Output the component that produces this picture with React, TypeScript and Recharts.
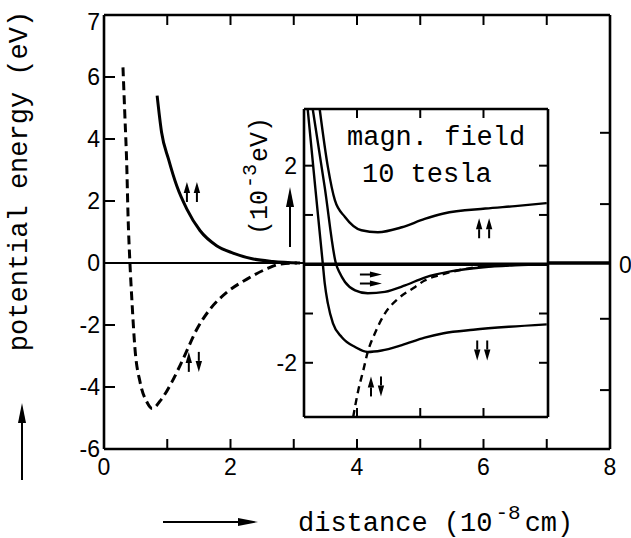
import React from 'react';
import { LineChart, Line, XAxis, YAxis, ReferenceLine, ReferenceDot } from 'recharts';

// main panel: potential energy (eV) vs distance (10^-8 cm)
const mainTripletX = [0.84, 0.91, 1.02, 1.15, 1.31, 1.52, 1.78, 2.04, 2.36, 2.67, 3.1];
const mainTripletY = [5.4, 4.22, 3.35, 2.49, 1.74, 1.04, 0.56, 0.32, 0.13, 0.05, 0];

const mainSingletX = [0.3, 0.33, 0.36, 0.38, 0.41, 0.44, 0.49, 0.57, 0.68, 0.76, 0.91, 1.07, 1.25, 1.47, 1.68, 1.94, 2.26, 2.57, 2.8, 3.05];
const mainSingletY = [6.31, 4.75, 3.14, 1.53, 0, -1.16, -2.77, -3.84, -4.49, -4.69, -4.39, -3.85, -3.1, -2.13, -1.48, -0.95, -0.52, -0.19, -0.03, 0];

// inset: 10^-3 eV, magnetic field 10 tesla
const insetUpUpX = [3.41, 3.54, 3.65, 3.81, 4.07, 4.33, 4.71, 5.07, 5.37, 6.03, 6.5, 7.0];
const insetUpUpV = [3.15, 1.97, 1.3, 0.96, 0.69, 0.65, 0.75, 0.92, 1.03, 1.13, 1.18, 1.24];

const insetMixedX = [3.3, 3.49, 3.67, 3.72, 3.81, 3.97, 4.17, 4.44, 4.76, 5.07, 5.5, 6.0, 6.5, 7.0];
const insetMixedV = [3.15, 1.56, 0, -0.16, -0.36, -0.53, -0.59, -0.56, -0.43, -0.27, -0.14, -0.06, -0.02, 0];

const insetDownDownX = [3.22, 3.34, 3.46, 3.49, 3.54, 3.62, 3.76, 3.97, 4.17, 4.39, 4.71, 5.07, 5.37, 5.84, 6.4, 7.0];
const insetDownDownV = [3.15, 1.56, 0, -0.39, -0.8, -1.2, -1.48, -1.68, -1.78, -1.75, -1.64, -1.49, -1.4, -1.33, -1.27, -1.22];

const insetSingletX = [3.94, 4.02, 4.1, 4.17, 4.28, 4.44, 4.65, 4.92, 5.07, 5.31, 5.79, 6.3, 7.0];
const insetSingletV = [-3.1, -2.56, -2.15, -1.78, -1.41, -1.0, -0.7, -0.46, -0.33, -0.22, -0.08, -0.02, 0];

const mainXTicks = [0, 1, 2, 3, 4, 5, 6, 7, 8];
const mainYTicks = [-6, -4, -2, 0, 2, 4, 6, 8];
const mainRightTicks = [4.2, 1.9, -1.8, -4.1];
const insetXTicks = [4, 5, 6];
const insetYTicks = [-2, -1, 1, 2];

const mainSpins = [
  { x: 1.39, y: 2.29, kind: 'uu' },
  { x: 1.42, y: -3.19, kind: 'ud' },
];
const insetSpins = [
  { x: 6.01, y: 0.73, kind: 'uu' },
  { x: 4.22, y: -0.3, kind: 'rr' },
  { x: 5.98, y: -1.75, kind: 'dd' },
  { x: 4.3, y: -2.48, kind: 'ud' },
];

const pts = (xs: number[], ys: number[]) => xs.map((x, i) => ({ x, y: ys[i] }));

const MONO = '"Liberation Mono", "DejaVu Sans Mono", monospace';
const SANS = '"Liberation Sans", Arial, sans-serif';
const frame = { stroke: '#000', strokeWidth: 2.6 };
const tickStyle = { stroke: '#000', strokeWidth: 2 };
const blank = () => '';

const ArrowV = ({ x, cy, up }: { x: number; cy: number; up: boolean }) => {
  const tip = up ? cy - 10 : cy + 10;
  const base = up ? cy + 1 : cy - 1;
  const tail = up ? cy + 10 : cy - 10;
  return (
    <g>
      <line x1={x} y1={base} x2={x} y2={tail} stroke="#000" strokeWidth={2} />
      <path d={`M${x},${tip} L${x + 3.2},${base} L${x - 3.2},${base} Z`} fill="#000" />
    </g>
  );
};

const ArrowH = ({ cx, y }: { cx: number; y: number }) => (
  <g>
    <line x1={cx - 11} y1={y} x2={cx + 1} y2={y} stroke="#000" strokeWidth={2} />
    <path d={`M${cx + 11},${y} L${cx - 1},${y - 3} L${cx - 1},${y + 3} Z`} fill="#000" />
  </g>
);

const SpinPair = ({ cx, cy, kind }: { cx: number; cy: number; kind: string }) => {
  if (kind === 'rr') {
    return (
      <g>
        <ArrowH cx={cx} y={cy - 4.5} />
        <ArrowH cx={cx} y={cy + 4.5} />
      </g>
    );
  }
  return (
    <g>
      <ArrowV x={cx - 5} cy={cy} up={kind !== 'dd'} />
      <ArrowV x={cx + 5} cy={cy} up={kind === 'uu'} />
    </g>
  );
};

const LeftTick = (props: any) => {
  const { x, y, payload } = props;
  const top = payload.value === 8;
  return (
    <text x={x} y={y + (top ? 7 : 0)} dy="0.355em" textAnchor="end" fontSize={23} fontFamily={SANS} fill="#000">
      {top ? '7' : String(payload.value)}
    </text>
  );
};

const Arrow = ({ x1, y1, x2, y2 }: { x1: number; y1: number; x2: number; y2: number }) => {
  const len = Math.hypot(x2 - x1, y2 - y1);
  const ux = (x2 - x1) / len;
  const uy = (y2 - y1) / len;
  const hx = x2 - ux * 20;
  const hy = y2 - uy * 20;
  return (
    <g>
      <line x1={x1} y1={y1} x2={hx + ux * 2} y2={hy + uy * 2} stroke="#000" strokeWidth={2} />
      <path d={`M${x2},${y2} L${hx - uy * 4},${hy + ux * 4} L${hx + uy * 4},${hy - ux * 4} Z`} fill="#000" />
    </g>
  );
};

export default function App() {
  return (
    <div style={{ position: 'absolute', left: 0, top: 0, width: 631, height: 538, background: '#fff' }}>
      <div style={{ position: 'absolute', left: 0, top: 0 }}>
        <LineChart width={631} height={538} margin={{ top: 14, right: 20, bottom: 59, left: 44 }}>
          <XAxis
            xAxisId="b"
            type="number"
            dataKey="x"
            domain={[0, 8]}
            ticks={mainXTicks}
            interval={0}
            allowDataOverflow
            tickFormatter={(v: number) => (v % 2 === 0 ? String(v) : '')}
            tickSize={-10}
            tickMargin={20}
            height={30}
            axisLine={frame}
            tickLine={tickStyle}
            tick={{ fill: '#000', fontSize: 23, fontFamily: SANS }}
          />
          <XAxis
            xAxisId="t"
            orientation="top"
            type="number"
            dataKey="x"
            domain={[0, 8]}
            ticks={mainXTicks}
            interval={0}
            allowDataOverflow
            tickFormatter={blank}
            tickSize={-10}
            height={1}
            axisLine={frame}
            tickLine={tickStyle}
          />
          <YAxis
            yAxisId="l"
            type="number"
            domain={[-6, 8]}
            ticks={mainYTicks}
            interval={0}
            allowDataOverflow
            tickSize={-11}
            tickMargin={15}
            width={60}
            axisLine={frame}
            tickLine={tickStyle}
            tick={LeftTick}
          />
          <YAxis
            yAxisId="r"
            orientation="right"
            type="number"
            domain={[-6, 8]}
            ticks={mainRightTicks}
            interval={0}
            allowDataOverflow
            tickFormatter={blank}
            tickSize={-10}
            width={1}
            axisLine={frame}
            tickLine={tickStyle}
          />
          <ReferenceLine xAxisId="b" yAxisId="l" y={0} stroke="#000" strokeWidth={2.2} />
          <ReferenceLine
            xAxisId="b"
            yAxisId="l"
            segment={[{ x: 7.0, y: 0 }, { x: 8, y: 0 }]}
            stroke="#000"
            strokeWidth={3.5}
          />
          <Line
            xAxisId="b"
            yAxisId="l"
            data={pts(mainTripletX, mainTripletY)}
            dataKey="y"
            type="monotone"
            stroke="#000"
            strokeWidth={3}
            dot={false}
            isAnimationActive={false}
          />
          <Line
            xAxisId="b"
            yAxisId="l"
            data={pts(mainSingletX, mainSingletY)}
            dataKey="y"
            type="monotone"
            stroke="#000"
            strokeWidth={3}
            strokeDasharray="9 5"
            dot={false}
            isAnimationActive={false}
          />
          {mainSpins.map((s, i) => (
            <ReferenceDot
              key={i}
              xAxisId="b"
              yAxisId="l"
              x={s.x}
              y={s.y}
              r={1}
              shape={(p: any) => <SpinPair cx={p.cx} cy={p.cy} kind={s.kind} />}
            />
          ))}
        </LineChart>
      </div>

      <div style={{ position: 'absolute', left: 304, top: 109, width: 244, height: 308, background: '#fff' }} />

      <div style={{ position: 'absolute', left: 250, top: 100 }}>
        <LineChart width={310} height={330} margin={{ top: 8, right: 11, bottom: 12, left: 4 }}>
          <XAxis
            xAxisId="b"
            type="number"
            dataKey="x"
            domain={[3.162, 7.02]}
            ticks={insetXTicks}
            interval={0}
            allowDataOverflow
            tickFormatter={blank}
            tickSize={-9}
            height={1}
            axisLine={frame}
            tickLine={tickStyle}
          />
          <XAxis
            xAxisId="t"
            orientation="top"
            type="number"
            dataKey="x"
            domain={[3.162, 7.02]}
            ticks={insetXTicks}
            interval={0}
            allowDataOverflow
            tickFormatter={blank}
            tickSize={-9}
            height={1}
            axisLine={frame}
            tickLine={tickStyle}
          />
          <YAxis
            yAxisId="l"
            type="number"
            domain={[-3.1, 3.15]}
            ticks={insetYTicks}
            interval={0}
            allowDataOverflow
            tickFormatter={(v: number) => (Math.abs(v) === 2 ? String(v) : '')}
            tickSize={-9}
            tickMargin={16}
            width={50}
            axisLine={frame}
            tickLine={tickStyle}
            tick={{ fill: '#000', fontSize: 23, fontFamily: SANS }}
          />
          <YAxis
            yAxisId="r"
            orientation="right"
            type="number"
            domain={[-3.1, 3.15]}
            ticks={insetYTicks}
            interval={0}
            allowDataOverflow
            tickFormatter={blank}
            tickSize={-9}
            width={1}
            axisLine={frame}
            tickLine={tickStyle}
          />
          <ReferenceLine xAxisId="b" yAxisId="l" y={0} stroke="#000" strokeWidth={3.5} />
          {[
            pts(insetUpUpX, insetUpUpV),
            pts(insetMixedX, insetMixedV),
            pts(insetDownDownX, insetDownDownV),
          ].map((d, i) => (
            <Line
              key={i}
              xAxisId="b"
              yAxisId="l"
              data={d}
              dataKey="y"
              type="monotone"
              stroke="#000"
              strokeWidth={2.4}
              dot={false}
              isAnimationActive={false}
            />
          ))}
          <Line
            xAxisId="b"
            yAxisId="l"
            data={pts(insetSingletX, insetSingletV)}
            dataKey="y"
            type="monotone"
            stroke="#000"
            strokeWidth={2.4}
            strokeDasharray="7 5"
            dot={false}
            isAnimationActive={false}
          />
          {insetSpins.map((s, i) => (
            <ReferenceDot
              key={i}
              xAxisId="b"
              yAxisId="l"
              x={s.x}
              y={s.y}
              r={1}
              shape={(p: any) => <SpinPair cx={p.cx} cy={p.cy} kind={s.kind} />}
            />
          ))}
        </LineChart>
      </div>

      <svg width={631} height={538} style={{ position: 'absolute', left: 0, top: 0, pointerEvents: 'none' }}>
        <text transform="translate(27,181) rotate(-90)" textAnchor="middle" fontFamily={MONO} fontSize={27} fill="#000">
          potential energy (eV)
        </text>
        <Arrow x1={22} y1={480} x2={22} y2={403} />
        <Arrow x1={163} y1={522} x2={258} y2={522} />
        <text x={298} y={531} fontFamily={MONO} fontSize={27} fill="#000">
          distance (10
          <tspan dx={3} dy={-12} fontSize={21}>-8</tspan>
          <tspan dx={4} dy={12}>cm)</tspan>
        </text>
        <text transform="translate(267,176) rotate(-90)" textAnchor="middle" fontFamily={MONO} fontSize={25} fill="#000">
          (10
          <tspan dx={2} dy={-11} fontSize={20}>-3</tspan>
          <tspan dx={2} dy={11}>eV)</tspan>
        </text>
        <Arrow x1={290} y1={247} x2={290} y2={187} />
        <text x={347} y={145} fontFamily={MONO} fontSize={27} fill="#000">magn. field</text>
        <text x={362} y={182} fontFamily={MONO} fontSize={27} fill="#000">10 tesla</text>
        <text x={619} y={273} fontFamily={SANS} fontSize={23} fill="#000">0</text>
      </svg>
    </div>
  );
}
